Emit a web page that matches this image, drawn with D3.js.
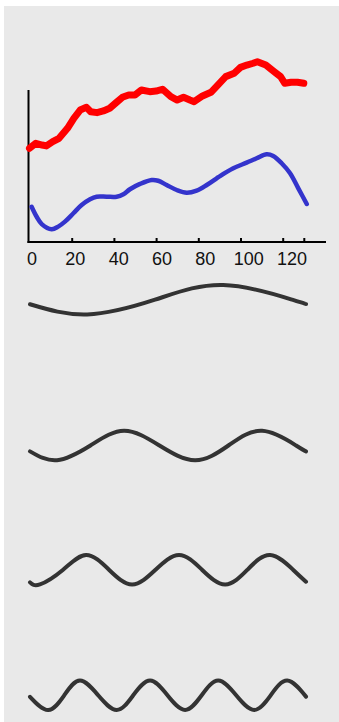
<!DOCTYPE html>
<html>
<head>
<meta charset="utf-8">
<script src="https://cdn.jsdelivr.net/npm/d3@7"></script>
<style>
  body { margin: 0; background: #fff; }
  svg { display: block; }
</style>
</head>
<body>
<div id="chart"></div>
<script>
// top panel: two series sampled along the x axis
const redX = [0, 3, 6, 8, 11, 14, 18, 21, 24, 27, 29, 32, 35, 38, 41, 44, 47, 50, 53, 57, 60, 63, 67, 70, 73, 76, 78, 82, 86, 90, 93, 97, 100, 103, 106, 108, 112, 116, 119, 121, 124, 127, 130];
const redY = [61.6, 64.9, 63.8, 63.2, 66.0, 68.2, 74.8, 81.4, 86.8, 88.6, 85.7, 85.1, 86.2, 88.0, 91.6, 95.2, 96.7, 96.7, 100, 98.9, 99.3, 100.5, 95.6, 93.4, 95.2, 93.4, 92.3, 96.1, 98.5, 104.4, 108.8, 111.0, 114.9, 116.4, 117.6, 118.6, 116.4, 112.0, 108.8, 104.4, 105.1, 105.1, 104.4];

const blueX = [1, 3.4, 5.8, 10.5, 13.6, 16.8, 20.8, 24.7, 28.7, 31.8, 36.6, 41.3, 44.5, 47.6, 52.4, 57.9, 61, 65, 69.8, 74.5, 79.2, 84, 88.7, 90.3, 96.6, 102.9, 107.7, 112.4, 115.5, 119.5, 123.5, 127.4, 131.4];
const blueY = [23.2, 16.6, 11.8, 8.4, 10.1, 13.4, 18.9, 24.3, 28.1, 29.8, 29.8, 29.8, 31.4, 34.7, 38.2, 40.8, 40.3, 37.5, 34.2, 32.4, 33.8, 37.5, 41.9, 43.4, 48.5, 52.2, 55.1, 57.7, 56.6, 51.8, 45.2, 35.3, 25.0];

const tickValues = [20, 40, 60, 80, 100, 120, 130];
const tickLabels = [0, 20, 40, 60, 80, 100, 120];

// waves below: points read at extrema / crossings (t across, v up/down)
const wave1T = [0, 0.207, 0.453, 0.70, 0.95, 1];
const wave1V = [-0.31, -1, 0, 1, 0, -0.29];
const wave2T = [0, 0.098, 0.219, 0.341, 0.469, 0.598, 0.719, 0.841, 0.964, 1];
const wave2V = [-0.4, -1, 0, 1, 0, -1, 0, 1, 0, -0.4];
const wave3T = [0, 0.036, 0.12, 0.203, 0.286, 0.37, 0.455, 0.54, 0.623, 0.707, 0.788, 0.87, 0.953, 1];
const wave3V = [-0.86, -1, 0, 1, 0, -1, 0, 1, 0, -1, 0, 1, 0, -0.82];
const wave4T = [0, 0.066, 0.124, 0.181, 0.247, 0.314, 0.374, 0.435, 0.498, 0.562, 0.622, 0.682, 0.747, 0.812, 0.872, 0.932, 1];
const wave4V = [-0.1, -1, 0, 1, 0, -1, 0, 1, 0, -1, 0, 1, 0, -1, 0, 1, -0.09];

const W = 339, H = 722;

const svg = d3.select("#chart").append("svg")
  .attr("width", W)
  .attr("height", H);

// gray panel
svg.append("rect")
  .attr("x", 4).attr("y", 6)
  .attr("width", W - 4).attr("height", H - 6)
  .attr("fill", "#e9e9e9");

//scales for the top chart
const x = d3.scaleLinear().domain([0, 130]).range([29.5, 303.8]);
const y = d3.scaleLinear().domain([0, 100]).range([242, 90]);
// labels sit a bit right of their ticks in the original
const xLab = d3.scaleLinear().domain([0, 120]).range([32, 292]);

const chartG = svg.append("g");

// axes
chartG.append("line")
  .attr("x1", 28.5).attr("x2", 28.5)
  .attr("y1", y.range()[1]).attr("y2", y.range()[0] + 1)
  .attr("stroke", "#000").attr("stroke-width", 2);

const xAxis = chartG.append("g")
  .attr("transform", "translate(0," + y(0) + ")")
  .call(d3.axisBottom(x).tickValues(tickValues).tickSize(-4).tickFormat(""));
xAxis.select(".domain").remove();
xAxis.selectAll(".tick line").attr("stroke", "#000").attr("stroke-width", 2);

chartG.append("line")
  .attr("x1", 27.5).attr("x2", 326)
  .attr("y1", y(0)).attr("y2", y(0))
  .attr("stroke", "#000").attr("stroke-width", 2);

chartG.selectAll(".lab")
  .data(tickLabels)
  .enter().append("text")
    .attr("class", "lab")
    .attr("x", d => xLab(d))
    .attr("y", 265)
    .attr("text-anchor", "middle")
    .attr("font-family", "Liberation Sans, Arial, sans-serif")
    .attr("font-size", 18)
    .attr("fill", "#111")
    .text(d => d);

const line = d3.line()
  .x(d => x(d[0]))
  .y(d => y(d[1]));

chartG.append("path")
  .datum(d3.zip(blueX, blueY))
  .attr("d", line.curve(d3.curveCatmullRom))
  .attr("fill", "none")
  .attr("stroke", "#3434cc")
  .attr("stroke-width", 4.5)
  .attr("stroke-linecap", "round")
  .attr("stroke-linejoin", "round");

chartG.append("path")
  .datum(d3.zip(redX, redY))
  .attr("d", line.curve(d3.curveLinear))
  .attr("fill", "none")
  .attr("stroke", "#ff0000")
  .attr("stroke-width", 7)
  .attr("stroke-linecap", "round")
  .attr("stroke-linejoin", "round");

// waves
const waves = [[wave1T, wave1V], [wave2T, wave2V], [wave3T, wave3V], [wave4T, wave4V]];
const rowMid = [299.7, 445.5, 569.7, 695.3];
const amp = 14.7;
const wx = d3.scaleLinear().domain([0, 1]).range([30, 306]);

waves.forEach(function(w, i) {
  const wy = d3.scaleLinear().domain([-1, 1]).range([rowMid[i] + amp, rowMid[i] - amp]);
  const wline = d3.line()
    .curve(d3.curveNatural)
    .x(d => wx(d[0]))
    .y(d => wy(d[1]));
  svg.append("path")
    .datum(d3.zip(w[0], w[1]))
    .attr("d", wline)
    .attr("fill", "none")
    .attr("stroke", "#333")
    .attr("stroke-width", 4)
    .attr("stroke-linecap", "round");
});
</script>
</body>
</html>
